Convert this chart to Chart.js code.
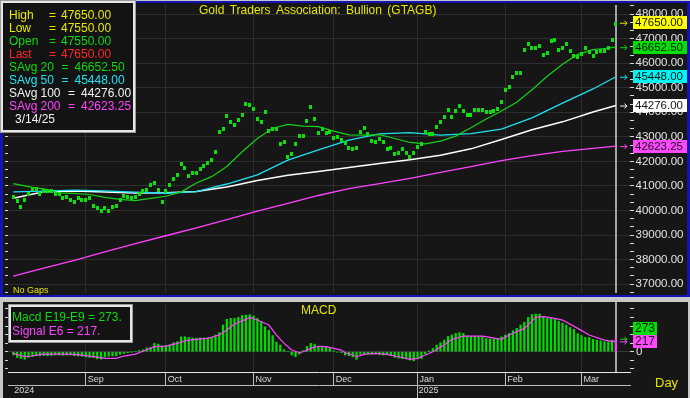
<!DOCTYPE html>
<html><head><meta charset="utf-8">
<script src="https://cdn.jsdelivr.net/npm/chart.js@4.4.1/dist/chart.umd.min.js"></script>
<style>
html,body{margin:0;padding:0;background:#c8c8c8;width:690px;height:398px;overflow:hidden;}
#c1{position:absolute;left:0;top:0;}
#c2{position:absolute;left:0;top:298px;}
</style></head><body>
<canvas id="c1" width="690" height="298"></canvas>
<canvas id="c2" width="690" height="100"></canvas>
<script>
// ---------- DATA ----------
const title = 'Gold Traders Association: Bullion (GTAGB)';
const monthLabels = ['Sep','Oct','Nov','Dec','Jan','Feb','Mar'];
const monthStart  = [19, 40, 63, 84, 106, 129, 149];
const yearLabels = ['2024','2025'];
const yearStart  = [0, 106];
const priceTicks = [37000,38000,39000,40000,41000,42000,43000,44000,45000,46000,47000,48000];
const macdTicks  = [-360,-180,0,180,360,540,720,900];
const macdLabelled = [0];

// mid value of each daily bar (bar index 0..158)
const priceMid = [
 40544,40400,40132,40440,40692,40892,40892,40680,40784,40784,
 40784,40664,40664,40492,40532,40440,40344,40492,40440,40440,
 40492,40200,40092,39972,40092,40000,40132,40200,40440,40600,
 40532,40492,40532,40664,40784,40840,41040,41104,40840,40344,
 40800,41052,41292,41440,41904,41744,41412,41532,41532,41692,
 41800,41944,42040,42400,43200,43304,43840,43600,43504,43704,
 43904,44332,44292,44132,43732,43600,44000,43240,43304,43332,
 42692,42800,42200,42292,42692,43040,43040,43640,44200,43732,
 43144,43304,43144,43212,42944,42984,42892,42732,42544,42504,
 42544,43200,43344,43132,42840,42800,42904,42800,42504,42544,
 42304,42332,42504,42344,42200,42344,42600,42704,43200,43104,
 43104,43400,43600,43800,44104,43800,44040,44240,44040,43904,
 43904,44104,44104,44092,44012,44012,44052,44144,44412,44904,
 45040,45440,45600,45600,46532,46800,46600,46640,46704,46344,
 46400,46892,46932,46532,46640,46800,46504,46304,46264,46372,
 46600,46464,46304,46440,46504,46504,46640,46932,47600
];
const lastBar = {high:47650.00, low:47550.00, open:47550.00, last:47650.00, date:'3/14/25'};

const sma20Idx = [0,3,5,8,12,16,20,24,28,32,36,40,44,48,52,56,60,64,68,72,76,80,84,88,92,96,100,104,108,112,116,120,124,128,132,136,140,144,148,152,155,158];
const sma20 = [41092,41004,40940,40880,40720,40700,40652,40532,40452,40404,40492,40580,40760,41124,41380,41792,42392,42932,43352,43512,43440,43420,43232,43084,43072,43092,42932,42772,42712,42824,43032,43372,43732,44052,44412,44920,45472,45960,46360,46556,46600,46652.50];
const maIdx = [0,8,16,24,32,40,48,56,64,72,80,88,96,104,112,120,128,136,144,152,158];
const sma50  = [40760,40792,40832,40800,40744,40704,40772,41080,41452,42052,42472,42872,43120,43172,43072,43132,43320,43772,44372,44952,45448.00];
const sma100 = [40504,40760,40792,40752,40712,40720,40772,40960,41220,41440,41592,41752,41920,42064,42252,42512,42892,43292,43612,44012,44276.00];
const sma200 = [37332,37652,37972,38312,38652,38972,39292,39632,39972,40292,40612,40892,41092,41312,41552,41792,42032,42232,42412,42532,42623.25];

const macd = [
 -70,-120,-145,-160,-120,-100,-85,-85,-80,-85,
 -80,-70,-70,-75,-70,-70,-85,-90,-95,-110,
 -120,-125,-150,-155,-110,-95,-90,-85,-55,-35,
 -20,-5,10,25,40,80,90,175,160,120,
 130,140,190,210,310,315,300,290,285,290,
 290,295,300,350,400,560,680,700,700,720,
 760,770,775,750,700,630,525,450,340,200,
 140,40,0,-70,-105,-50,20,110,175,160,
 115,110,105,70,20,-10,-20,-70,-85,-110,
 -160,-55,-50,-45,-55,-50,-65,-70,-65,-75,
 -120,-135,-145,-150,-175,-190,-150,-145,-40,20,
 70,140,190,245,320,350,385,400,385,330,
 320,320,315,315,275,270,265,280,315,350,
 385,440,490,560,620,720,780,790,790,740,
 700,700,680,640,600,560,510,470,380,340,
 300,300,260,245,230,210,205,240,273
];
const signalIdx = [0,1,3,5,7,8,10,15,18,21,24,27,29,32,34,37,40,43,45,48,51,54,56,58,61,62,64,67,69,71,73,75,76,78,80,82,84,86,87,89,90,92,95,98,101,104,106,108,110,113,115,118,123,125,128,130,134,137,139,142,144,148,151,155,157,158];
const signal = [-30,-60,-105,-90,-60,-50,-49,-49,-70,-105,-140,-140,-91,-49,10,105,119,175,231,259,280,350,455,581,679,720,665,560,350,175,35,-21,0,70,115,105,70,35,-21,-70,-105,-56,-35,-56,-105,-161,-140,-70,0,140,259,329,329,301,259,350,490,721,735,700,665,490,350,245,217,217];
const macdLast = 273, signalLast = 217;

// ---------- helpers ----------
const FONT = '"Liberation Sans", Arial, sans-serif';
const xMin = -1.39, xMax = 161.7;
const pts = (idx, vals) => idx.map((x, k) => ({x, y: vals[k]}));
// major price ticks plus two minor tick marks between neighbours
const priceTickSet = (() => { const out = []; const step = priceTicks[1]-priceTicks[0];
  for (let k = -1; k < priceTicks.length + 1; k++) { const base = priceTicks[0] + k*step;
    out.push(base); out.push(base + step/3); out.push(base + 2*step/3); }
  return out; })();
const isMajorPrice = v => priceTicks.includes(v);
const noPad = ax => { ax.paddingTop = 0; ax.paddingBottom = 0; ax.paddingLeft = 0; ax.paddingRight = 0; };
function marker(w, h, color){const c=document.createElement('canvas');c.width=w;c.height=h;const g=c.getContext('2d');g.fillStyle=color;g.fillRect(0,0,w,h);return c;}
const barMark = marker(3, 4, '#0ce00c');
const C = {yellow:'#e8e800', green:'#10d810', red:'#ff2828', cyan:'#20e4f4', white:'#f2f2f2', magenta:'#ff44ff'};

function arrow(ctx, x, y, col){
  ctx.save(); ctx.strokeStyle=col; ctx.lineWidth=1; ctx.beginPath();
  ctx.moveTo(x, y+0.5); ctx.lineTo(x+7, y+0.5);
  ctx.moveTo(x+4.5, y-2); ctx.lineTo(x+7, y+0.5); ctx.lineTo(x+4.5, y+3);
  ctx.stroke(); ctx.restore();
}
function tag(ctx, x, y, w, bg, text, size){
  ctx.save(); ctx.fillStyle=bg; ctx.fillRect(x, Math.round(y-6.5), w, 13);
  ctx.fillStyle='#141414'; ctx.font=size+'px '+FONT; ctx.textBaseline='middle'; ctx.textAlign='left';
  ctx.fillText(text, x+2, Math.round(y-6.5)+7); ctx.restore();
}
function box(ctx, x, y, w, h){
  ctx.fillStyle='#9a9a9a'; ctx.fillRect(x, y, w, h);
  ctx.fillStyle='#e6e6e6'; ctx.fillRect(x+1, y+1, w-2, h-2);
  ctx.fillStyle='#131313'; ctx.fillRect(x+3, y+3, w-6, h-6);
}
function txt(ctx, s, x, y, col, size){
  ctx.fillStyle=col; ctx.font=(size||12)+'px '+FONT; ctx.textBaseline='middle'; ctx.textAlign='left'; ctx.fillText(s, x, y);
}

// ---------- main chart ----------
const mainDeco = {
  id:'mainDeco',
  beforeDraw(chart){const c=chart.ctx; c.save(); c.fillStyle='#161616'; c.fillRect(0,0,chart.width,chart.height); c.restore();},
  beforeDatasetsDraw(chart){
    const c=chart.ctx, a=chart.chartArea, px=chart.scales.x.getPixelForValue(priceMid.length-1);
    c.save(); c.fillStyle='#a4a4a4'; c.fillRect(Math.round(px)-1, a.top, 2, a.bottom-a.top); c.restore();
  },
  afterDraw(chart){
    const c=chart.ctx, y=chart.scales.y; c.save();
    // frame
    c.fillStyle='#c8c8c8'; c.fillRect(0,0,690,1); c.fillRect(0,297,690,1);
    c.fillStyle='#1414b4'; c.fillRect(0,1,690,2); c.fillRect(0,1,3,296); c.fillRect(687,1,3,296); c.fillRect(0,295,690,2);
    // title & note
    c.save(); try { c.wordSpacing = '2px'; } catch(e) {}
    txt(c, title, 199, 11, '#e6e600', 12); c.restore();
    txt(c, 'No Gaps', 13, 291, '#e6e600', 9);
    // tags
    const tags = [[lastBar.last,'#ffff00',C.yellow],[sma20[sma20.length-1],'#00e000',C.green],[sma50[sma50.length-1],'#00f4f4',C.cyan],[sma100[sma100.length-1],'#ffffff',C.white],[sma200[sma200.length-1],'#ff48ff',C.magenta]];
    tags.forEach(([v,bg,col])=>{const py=y.getPixelForValue(v); arrow(c, 620, py, col); tag(c, 633, py, 54, bg, v.toFixed(2), 11.5);});
    // legend box
    box(c, 0, 0, 136, 133);
    const rows = [
      ['High','=',lastBar.high,C.yellow],['Low','=',lastBar.low,C.yellow],['Open','=',lastBar.open,C.green],['Last','=',lastBar.last,C.red]
    ];
    rows.forEach((r,k)=>{const yy=15.5+13*k; txt(c,r[0],9,yy,r[3]); txt(c,r[1],49,yy,r[3]); txt(c,r[2].toFixed(2),61,yy,r[3]);});
    const srows = [['20',sma20[sma20.length-1],C.green],['50',sma50[sma50.length-1],C.cyan],['100',sma100[sma100.length-1],C.white],['200',sma200[sma200.length-1],C.magenta]];
    srows.forEach((r,k)=>{const yy=15.5+13*(k+4); const wide=r[0].length>2; txt(c,'SAvg',9,yy,r[2]); txt(c,r[0],40.5,yy,r[2]); txt(c,'=',wide?68:61.5,yy,r[2]); txt(c,r[1].toFixed(2),wide?81:74.5,yy,r[2]);});
    txt(c, lastBar.date, 15, 15.5+13*8, C.white);
    c.restore();
  }
};

const yMin = 36640, yMax = 48372;
const priceTickObjs = () => priceTickSet.filter(v=>v>=yMin && v<=yMax).map(v=>({value:v}));
new Chart(document.getElementById('c1'), {
  type:'scatter',
  data:{datasets:[
    {type:'scatter', data: priceMid.map((v,i)=>({x:i,y:v})), pointStyle: barMark, pointRadius:2, order:0, xAxisID:'x', yAxisID:'y'},
    {type:'line', data: pts(sma20Idx, sma20), borderColor:'#18d018', borderWidth:1.2, pointRadius:0, order:1, xAxisID:'x', yAxisID:'y'},
    {type:'line', data: pts(maIdx, sma50), borderColor:'#20e0f0', borderWidth:1.3, pointRadius:0, order:2, xAxisID:'x', yAxisID:'y'},
    {type:'line', data: pts(maIdx, sma100), borderColor:'#ffffff', borderWidth:1.5, pointRadius:0, order:3, xAxisID:'x', yAxisID:'y'},
    {type:'line', data: pts(maIdx, sma200), borderColor:'#ff44ff', borderWidth:1.3, pointRadius:0, order:4, xAxisID:'x', yAxisID:'y'}
  ]},
  options:{
    responsive:false, animation:false, events:[],
    layout:{padding:{top:3,bottom:2,left:0,right:0}},
    plugins:{legend:{display:false}, tooltip:{enabled:false}, title:{display:false}},
    scales:{
      x:{type:'linear', min:xMin, max:xMax, offset:false, position:'bottom',
         afterBuildTicks: ax => { ax.ticks = monthStart.map(v=>({value:v})); },
         afterFit: ax => { ax.height = 0; noPad(ax); },
         ticks:{display:false}, grid:{color:'#2e2e2e', drawTicks:false, offset:false}, border:{display:false}},
      y:{type:'linear', position:'right', min:yMin, max:yMax,
         afterBuildTicks: ax => { ax.ticks = priceTickObjs(); },
         afterFit: ax => { ax.width = 60; noPad(ax); },
         ticks:{autoSkip:false, padding:1.5, color:'#e4e4e4', font:{family:FONT,size:11.5},
                callback: v => isMajorPrice(v) ? v.toFixed(2) : ''},
         grid:{color: c => (c.tick && isMajorPrice(c.tick.value)) ? '#2e2e2e' : 'rgba(0,0,0,0)', tickColor:'#d8d8d8', tickLength:4},
         border:{display:false}},
      yl:{type:'linear', axis:'y', position:'left', min:yMin, max:yMax,
         afterBuildTicks: ax => { ax.ticks = priceTickObjs(); },
         afterFit: ax => { ax.width = 8; noPad(ax); },
         ticks:{display:false, autoSkip:false},
         grid:{drawOnChartArea:false, tickColor:'#d8d8d8', tickLength:3},
         border:{display:false}}
    }
  },
  plugins:[mainDeco]
});

// ---------- MACD chart ----------
const macdDeco = {
  id:'macdDeco',
  beforeDraw(chart){const c=chart.ctx; c.save(); c.fillStyle='#161616'; c.fillRect(0,0,chart.width,chart.height);
    c.fillStyle='#c8c8c8'; c.fillRect(0,0,690,4); c.fillRect(0,0,3,100); c.fillRect(688,0,2,100); c.restore();},
  beforeDatasetsDraw(chart){
    const c=chart.ctx, a=chart.chartArea, px=chart.scales.x.getPixelForValue(macd.length-1);
    c.save(); c.fillStyle='#a4a4a4'; c.fillRect(Math.round(px)-1, a.top-1, 2, a.bottom-a.top+1); c.restore();
  },
  afterDraw(chart){
    const c=chart.ctx, y=chart.scales.y; c.save();
    txt(c, 'MACD', 301, 13, '#e6e600', 12);
    box(c, 8, 6, 125, 39);
    txt(c, 'Macd E19-E9 = '+macdLast+'.', 12, 19.5, C.green);
    txt(c, 'Signal E6 = '+signalLast+'.', 12, 33.5, C.magenta);
    let ys = y.getPixelForValue(signalLast), ym = y.getPixelForValue(macdLast);
    arrow(c, 620, ym, C.green); arrow(c, 620, ys, C.magenta);
    let tagM = Math.min(ym, ys-12.5);
    tag(c, 633, tagM, 24, '#00e000', String(macdLast), 12);
    tag(c, 633, ys, 24, '#ff48ff', String(signalLast), 12);
    txt(c, 'Day', 655, 85, '#e6e600', 13);
    c.restore();
  }
};

const mMin = -426, mMax = 1023;
new Chart(document.getElementById('c2'), {
  type:'bar',
  data:{datasets:[
    {type:'bar', data: macd.map((v,i)=>({x:i,y:v})), backgroundColor: ctx => ctx.dataIndex===macd.length-1 ? '#ff44ff' : '#00dc00', barThickness:1.6, order:2, xAxisID:'x', yAxisID:'y'},
    {type:'line', data: pts(signalIdx, signal), borderColor:'#ff44ff', borderWidth:1.2, pointRadius:0, order:1, xAxisID:'x', yAxisID:'y'}
  ]},
  options:{
    responsive:false, animation:false, events:[],
    layout:{padding:{top:5,bottom:0,left:0,right:0}},
    plugins:{legend:{display:false}, tooltip:{enabled:false}, title:{display:false}},
    scales:{
      x:{type:'linear', min:xMin, max:xMax, offset:false, position:'bottom', weight:0,
         afterBuildTicks: ax => { ax.ticks = monthStart.map(v=>({value:v})); },
         afterFit: ax => { ax.height = 13; noPad(ax); },
         ticks:{autoSkip:false, maxRotation:0, minRotation:0, align:'start', labelOffset:2, padding:-10.4, color:'#dadada', font:{family:FONT,size:9},
                callback:(v,i)=>monthLabels[i]},
         grid:{color:'#2e2e2e', tickColor:'#bcbcbc', tickLength:13, offset:false},
         border:{display:true, color:'#e8e8e8', width:1}},
      x2:{type:'linear', axis:'x', min:xMin, max:xMax, offset:false, position:'bottom', weight:1,
         afterBuildTicks: ax => { ax.ticks = yearStart.map(v=>({value:v})); },
         afterFit: ax => { ax.height = 13; noPad(ax); },
         ticks:{autoSkip:false, maxRotation:0, minRotation:0, align:'start', labelOffset:1, padding:-12.5, color:'#dadada', font:{family:FONT,size:9},
                callback:(v,i)=>yearLabels[i]},
         grid:{drawOnChartArea:false, tickColor: c => c.index===0 ? 'rgba(0,0,0,0)' : '#bcbcbc', tickLength:13, offset:false},
         border:{display:true, color:'#bcbcbc', width:1}},
      y:{type:'linear', position:'right', min:mMin, max:mMax,
         afterBuildTicks: ax => { ax.ticks = macdTicks.map(v=>({value:v})); },
         afterFit: ax => { ax.width = 60; noPad(ax); },
         ticks:{autoSkip:false, padding:2, color:'#e4e4e4', font:{family:FONT,size:11.5},
                callback: v => macdLabelled.includes(v) ? String(v) : ''},
         grid:{color: c => (c.tick && c.tick.value===0) ? '#383838' : 'rgba(0,0,0,0)', tickColor:'#d8d8d8', tickLength:4},
         border:{display:false}},
      yl:{type:'linear', axis:'y', position:'left', min:mMin, max:mMax,
         afterBuildTicks: ax => { ax.ticks = macdTicks.map(v=>({value:v})); },
         afterFit: ax => { ax.width = 8; noPad(ax); },
         ticks:{display:false, autoSkip:false},
         grid:{drawOnChartArea:false, tickColor:'#d8d8d8', tickLength:3},
         border:{display:false}}
    }
  },
  plugins:[macdDeco]
});
</script></body></html>
